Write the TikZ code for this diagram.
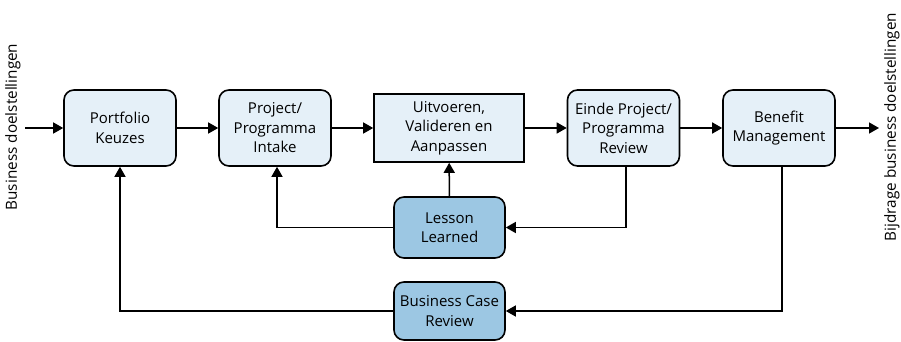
\documentclass[tikz,border=0pt]{standalone}
\usepackage{fontspec}
\setmainfont{Open Sans}
\usetikzlibrary{arrows.meta}
\definecolor{lightbox}{HTML}{E5F0F8}
\definecolor{darkbox}{HTML}{9CC7E3}
\begin{document}
\begin{tikzpicture}[x=1pt,y=-1pt,
  box/.style={draw=black,line width=1.6pt,rounded corners=10pt,fill=lightbox,
    minimum width=112pt,minimum height=76pt,inner sep=0pt,align=center,
    font=\fontsize{15}{19.5}\selectfont},
  sqbox/.style={box,rounded corners=0pt,minimum width=150pt,minimum height=68pt},
  dbox/.style={box,fill=darkbox,minimum width=111pt,minimum height=61pt},
  arr/.style={line width=1.5pt,-{Triangle[length=10pt,width=11pt]}},
  side/.style={rotate=90,font=\fontsize{15.3}{17}\selectfont}]
\useasboundingbox (0,0) rectangle (901,342);
\node[box] (pf) at (120,128) {Portfolio\\Keuzes};
\node[box] (pi) at (275,128) {Project/\\Programma\\Intake};
\node[sqbox] (uv) at (449,128) {Uitvoeren,\\Valideren en\\Aanpassen};
\node[box] (ep) at (623.5,128) {Einde Project/\\Programma\\Review};
\node[box] (bm) at (779,128) {Benefit\\Management};
\node[dbox] (ll) at (449.5,227.5) {Lesson\\Learned};
\node[dbox,minimum height=58pt] (bc) at (449.5,311) {Business Case\\Review};
\node[side] (lt) at (13,127) {Business doelstellingen};
\node[side] (rt) at (892,127) {Bijdrage business doelstellingen};
\coordinate (in) at (25,128);
\coordinate (out) at (879,128);
\draw[arr] (in) -- (pf);
\draw[arr] (pf) -- (pi);
\draw[arr] (pi) -- (uv);
\draw[arr] (uv) -- (ep);
\draw[arr] (ep) -- (bm);
\draw[arr] (bm) -- (out);
\draw[arr] (ll) -- (uv);
\draw[arr] (ep.south -| 626,0) |- (ll.east);
\draw[arr] (ll.west) -| (pi.south -| 277,0);
\draw[arr] (bm.south -| 782,0) |- (bc.east);
\draw[arr] (bc.west) -| (pf.south);
\end{tikzpicture}
\end{document}
